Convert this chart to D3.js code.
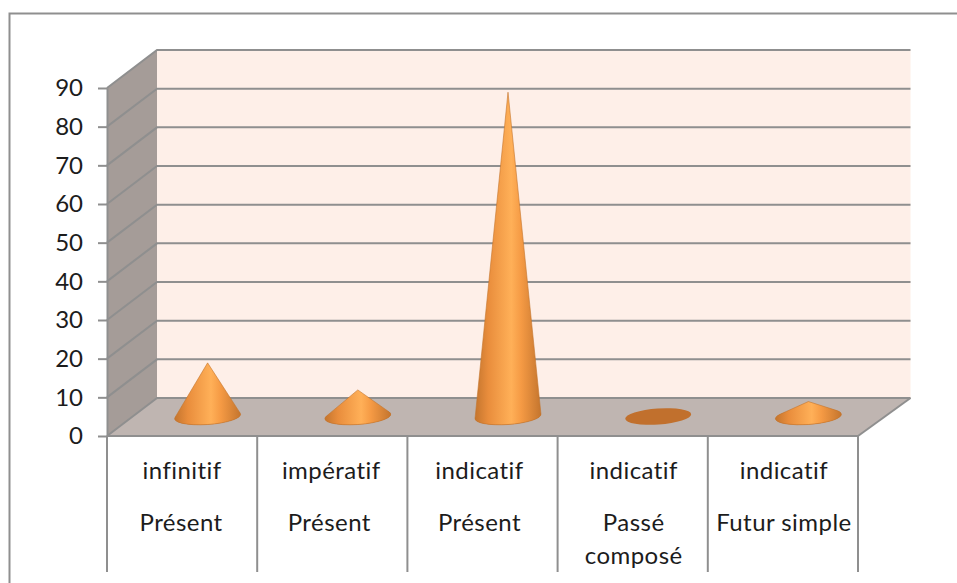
<!DOCTYPE html>
<html>
<head>
<meta charset="utf-8">
<script src="https://cdn.jsdelivr.net/npm/d3@7/dist/d3.min.js"></script>
<style>
html,body{margin:0;padding:0;background:#fff;overflow:hidden}
svg{display:block}
text{font-family:Lato,"Open Sans",sans-serif;fill:#1c1c1c;font-variant-ligatures:none}
</style>
</head>
<body>
<svg id="chart" width="957" height="583"></svg>
<script>
// Verb usage counts by mood and tense
const moods = ["infinitif", "impératif", "indicatif", "indicatif", "indicatif"];
const tenses = [["Présent"], ["Présent"], ["Présent"], ["Passé", "composé"], ["Futur simple"]];
const values = [14, 7, 84, 0, 4];
const yTicks = [0, 10, 20, 30, 40, 50, 60, 70, 80, 90];

const lineColor = "#8f8f8f";
const width = 957, height = 583;
const depthX = 50, depthXRight = 52.5, depthY = -38;
const svg = d3.select("#chart");

const x = d3.scaleBand().domain(d3.range(values.length)).range([107, 858]);
const y = d3.scaleLinear().domain([0, 90]).range([436, 88]);

// Outer chart frame, open towards the right and the bottom
svg.append("path")
  .attr("d", `M${width},13.5H9.5V${height}`)
  .attr("fill", "none").attr("stroke", lineColor).attr("stroke-width", 2);

const x0 = x.range()[0], x1 = x.range()[1];
const y0 = y(0), yTop = y(90);
const backLeft = x0 + depthX, backRight = x1 + depthXRight;

// Back wall, side wall and floor of the box
svg.append("rect")
  .attr("x", backLeft).attr("y", yTop + depthY)
  .attr("width", backRight - backLeft).attr("height", y0 - yTop)
  .attr("fill", "#feefe8");
svg.append("polygon")
  .attr("points", [[x0, yTop], [backLeft, yTop + depthY], [backLeft, y0 + depthY], [x0, y0]].join(" "))
  .attr("fill", "#a59c98");
svg.append("polygon")
  .attr("points", [[x0, y0], [backLeft, y0 + depthY], [backRight, y0 + depthY], [x1, y0]].join(" "))
  .attr("fill", "#bfb5b1");

// Gridlines wrap from the side wall onto the back wall
const grid = svg.append("g").attr("fill", "none").attr("stroke", lineColor).attr("stroke-width", 2);
grid.selectAll("path").data(yTicks).join("path")
  .attr("d", t => `M${x0},${y(t)}L${backLeft},${y(t) + depthY}H${backRight}`);
svg.append("path")
  .attr("d", `M${x1},${y0}L${backRight},${y0 + depthY}`)
  .attr("fill", "none").attr("stroke", lineColor).attr("stroke-width", 2);

// Value axis
const axis = svg.append("g")
  .attr("transform", `translate(${x0},0)`)
  .call(d3.axisLeft(y).tickValues(yTicks).tickSize(9).tickSizeOuter(0).tickPadding(15));
axis.selectAll("line,path").attr("stroke", lineColor).attr("stroke-width", 2);
axis.selectAll("text").attr("font-size", 24).style("fill", "#1c1c1c")
  .style("font-family", 'Lato,"Open Sans",sans-serif');

// Category table under the floor
svg.append("line")
  .attr("x1", x0).attr("x2", x1).attr("y1", y0).attr("y2", y0)
  .attr("stroke", lineColor).attr("stroke-width", 2);
svg.append("g").selectAll("line").data(d3.range(values.length + 1)).join("line")
  .attr("x1", i => x0 + i * x.step()).attr("x2", i => x0 + i * x.step())
  .attr("y1", y0).attr("y2", 572)
  .attr("stroke", lineColor).attr("stroke-width", 2);

// Cell text sits a little left of centre in the middle columns
const moodNudge = [0, -1, -3, 1, 1];
const tenseNudge = [-1, -3, -3, 1, 1];
const labels = svg.append("g").attr("text-anchor", "middle")
  .attr("font-size", 24).attr("letter-spacing", 0.45);
moods.forEach((m, i) => {
  const cx = x(i) + x.bandwidth() / 2;
  labels.append("text").attr("x", cx + moodNudge[i]).attr("y", 479).text(m);
  tenses[i].forEach((t, j) => {
    labels.append("text").attr("x", cx + tenseNudge[i]).attr("y", 531 + j * 33).text(t);
  });
});

// Horizontal shading shared by all the cones
const defs = svg.append("defs");
const grad = defs.append("linearGradient").attr("id", "coneShade")
  .attr("x1", 0).attr("x2", 1).attr("y1", 0).attr("y2", 0);
[[0, "#c4752e"], [0.2, "#e98d3c"], [0.55, "#ffb058"], [0.7, "#f59a44"], [1, "#c4752e"]]
  .forEach(([o, c]) => grad.append("stop").attr("offset", o).attr("stop-color", c));

// Cones stand halfway into the box, their elliptical bases slightly tilted
const rx = x.bandwidth() * 0.22, ry = 8, tiltDeg = -4;
const cosT = Math.cos(tiltDeg * Math.PI / 180), sinT = Math.sin(tiltDeg * Math.PI / 180);
const baseY = y(0) + depthY / 2 - 0.5;
const coneX = i => x(i) + x.bandwidth() / 2 + depthX / 2 + 0.5;

function conePath(cx, apexY) {
  const pt = t => {
    const ex = rx * Math.cos(t), ey = ry * Math.sin(t);
    return [cx + ex * cosT - ey * sinT, baseY + ex * sinT + ey * cosT];
  };
  // Tangent points are the rim points seen at the widest angle from the tip
  const rim = d3.range(0, 720).map(k => pt(k * Math.PI / 360));
  const angle = p => Math.atan2(p[0] - cx, p[1] - apexY);
  const left = d3.least(rim, p => angle(p));
  const right = d3.greatest(rim, p => angle(p));
  return `M${cx},${apexY}L${left[0]},${left[1]}A${rx},${ry} ${tiltDeg} 1 0 ${right[0]},${right[1]}Z`;
}

const cones = svg.append("g").selectAll("g").data(values.map((v, i) => ({ v, i }))).join("g");
cones.append("ellipse")
  .attr("cx", d => coneX(d.i))
  .attr("cy", baseY)
  .attr("rx", rx).attr("ry", ry)
  .attr("transform", d => `rotate(${tiltDeg} ${coneX(d.i)} ${baseY})`)
  .attr("fill", "#c1702d");
cones.filter(d => d.v > 0).append("path")
  .attr("d", d => conePath(coneX(d.i), y(d.v) + depthY / 2))
  .attr("fill", "url(#coneShade)")
  .attr("stroke", "#c4752e").attr("stroke-width", 0.6);
</script>
</body>
</html>
